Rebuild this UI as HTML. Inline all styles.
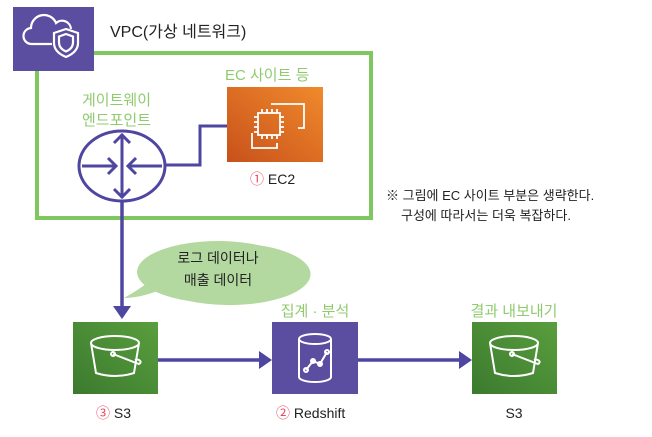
<!DOCTYPE html>
<html><head><meta charset="utf-8"><style>
body{margin:0;background:#fff;width:652px;height:432px;overflow:hidden}
svg text{font-family:"Liberation Sans","Noto Sans CJK KR",sans-serif}
</style></head><body>
<svg width="652" height="432" viewBox="0 0 652 432" xmlns="http://www.w3.org/2000/svg">
<defs>
<linearGradient id="o" x1="0" y1="1" x2="1" y2="0"><stop offset="0" stop-color="#c8511b"/><stop offset="1" stop-color="#f08a2c"/></linearGradient>
<linearGradient id="g" x1="0" y1="1" x2="1" y2="0"><stop offset="0" stop-color="#3b7a2e"/><stop offset="1" stop-color="#5a9e3e"/></linearGradient>
</defs>
<rect x="37" y="53" width="334" height="165" fill="none" stroke="#7fc85f" stroke-width="4"/>
<rect x="13" y="7" width="81" height="64" fill="#5b4da0"/>
<g fill="none" stroke="#fff" stroke-width="2.2">
<path d="M52 44 h-20 a8 8 0 0 1-1-16 a13 13 0 0 1 25-5 a9 9 0 0 1 15 6"/>
<path d="M66 29 l12 4 v10 q0 9-12 14 q-12-5-12-14 v-10z"/>
<path d="M66 34 l7 2.5 v6 q0 6-7 9 q-7-3-7-9 v-6z"/>
</g>
<text x="110" y="37" font-size="16" fill="#222">VPC(가상 네트워크)</text>
<text x="225" y="80" font-size="15" fill="#8fcb6e">EC 사이트 등</text>
<text x="82" y="105" font-size="15" fill="#8fcb6e">게이트웨이</text>
<text x="82" y="125" font-size="15" fill="#8fcb6e">엔드포인트</text>
<rect x="227" y="87" width="96" height="75" fill="url(#o)"/>
<g fill="none" stroke="#fff" stroke-width="1.8">
<path d="M271 104 h33 v24 h-6"/><path d="M252 133 v15 h25 v-5"/>
<rect x="258" y="113" width="22" height="22"/>
<path d="M262 109v4M267 109v4M272 109v4M277 109v4M262 135v4M267 135v4M272 135v4M277 135v4M254 117h4M254 122h4M254 127h4M254 132h4M280 117h4M280 122h4M280 127h4M280 132h4"/>
</g>
<text x="250" y="184" font-size="14" fill="#222"><tspan fill="#e84a5f">①</tspan> EC2</text>
<polyline points="164,165 200,165 200,126 227,126" fill="none" stroke="#4e46a0" stroke-width="3"/>
<ellipse cx="122" cy="166" rx="43" ry="35" fill="#fff" stroke="#4e46a0" stroke-width="3"/>
<g stroke="#4e46a0" stroke-width="3" fill="none">
<line x1="122" y1="134" x2="122" y2="198"/><line x1="82" y1="166" x2="116" y2="166"/><line x1="128" y1="166" x2="162" y2="166"/>
<path d="M114 143l8-8 8 8M114 189l8 8 8-8M108 158l8 8-8 8M136 158l-8 8 8 8"/>
</g>
<line x1="122" y1="201" x2="122" y2="308" stroke="#4e46a0" stroke-width="3.5"/>
<polygon points="113,306 131,306 122,319" fill="#4e46a0"/>
<text x="386" y="200" font-size="13" fill="#222">※ 그림에 EC 사이트 부분은 생략한다.</text>
<text x="401" y="220" font-size="13" fill="#222">구성에 따라서는 더욱 복잡하다.</text>
<path d="M160 290 Q140 298 124 298 Q145 286 150 280 A81 31 0 1 1 160 290z" fill="#b4d9a0"/>
<ellipse cx="218" cy="272" rx="81" ry="31" fill="#b4d9a0"/>
<text x="218" y="263" font-size="14" fill="#222" text-anchor="middle">로그 데이터나</text>
<text x="218" y="285" font-size="14" fill="#222" text-anchor="middle">매출 데이터</text>
<text x="315" y="316" font-size="15" fill="#8fcb6e" text-anchor="middle">집계 · 분석</text>
<text x="514" y="316" font-size="15" fill="#8fcb6e" text-anchor="middle">결과 내보내기</text>
<rect x="73" y="322" width="85" height="72" fill="url(#g)"/>
<rect x="472" y="322" width="85" height="72" fill="url(#g)"/>
<rect x="272" y="322" width="86" height="72" fill="#5b4da0"/>
<g fill="none" stroke="#fff" stroke-width="2">
<path d="M91 343 a24 7 0 0 1 48 0 a24 7 0 0 1-48 0 l5 30 q19 6 38 0 l5-30"/><path d="M113 354 l26 10 a3 2 0 0 0-4-4"/><circle cx="113" cy="354" r="2"/>
<path d="M490 343 a24 7 0 0 1 48 0 a24 7 0 0 1-48 0 l5 30 q19 6 38 0 l5-30"/><path d="M512 354 l26 10 a3 2 0 0 0-4-4"/><circle cx="512" cy="354" r="2"/>
<path d="M299 339 a16 5 0 0 1 32 0 v38 a16 5 0 0 1-32 0z M299 339 a16 5 0 0 0 32 0"/>
<path d="M306 370 l7-9 7 3 7-12"/><circle cx="306" cy="370" r="2"/><circle cx="313" cy="361" r="2"/><circle cx="320" cy="364" r="2"/><circle cx="327" cy="352" r="2"/>
</g>
<line x1="158" y1="360" x2="262" y2="360" stroke="#4e46a0" stroke-width="3.5"/>
<polygon points="259,351 272,360 259,369" fill="#4e46a0"/>
<line x1="358" y1="360" x2="462" y2="360" stroke="#4e46a0" stroke-width="3.5"/>
<polygon points="459,351 472,360 459,369" fill="#4e46a0"/>
<text x="96" y="418" font-size="14" fill="#222"><tspan fill="#e84a5f">③</tspan> S3</text>
<text x="276" y="418" font-size="14" fill="#222"><tspan fill="#e84a5f">②</tspan> Redshift</text>
<text x="514" y="418" font-size="14" fill="#222" text-anchor="middle">S3</text>
</svg>
</body></html>
